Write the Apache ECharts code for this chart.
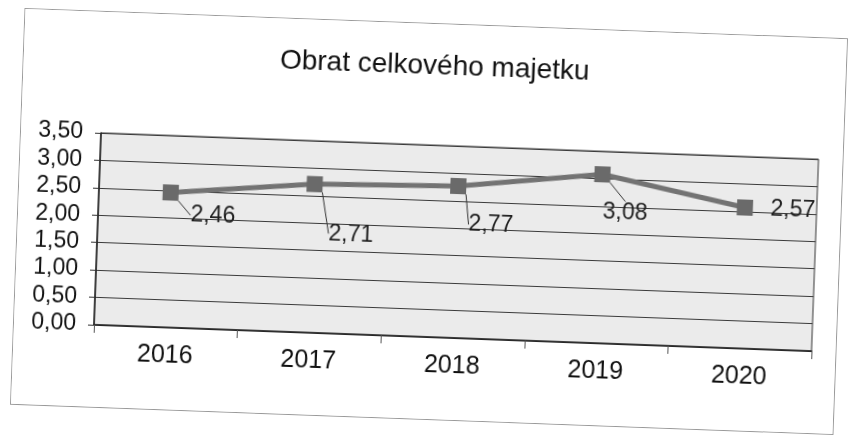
<!DOCTYPE html>
<html>
<head>
<meta charset="utf-8">
<script src="https://cdn.jsdelivr.net/npm/echarts@6/dist/echarts.min.js"></script>
<style>
html,body{margin:0;padding:0;background:#fff;width:850px;height:442px;overflow:hidden;}
#box{position:absolute;left:16.5px;top:23px;width:824px;height:397px;box-sizing:border-box;border:1px solid #9a9a9a;transform:rotate(2.1deg);transform-origin:50% 50%;background:#fff;}
#chart{position:absolute;left:0;top:0;width:822px;height:395px;}
</style>
</head>
<body>
<div id="box"><div id="chart"></div></div>
<script>
var title = 'Obrat celkového majetku';
var categories = ['2016', '2017', '2018', '2019', '2020'];
var values = [2.46, 2.71, 2.77, 3.08, 2.57];
var yTicks = { min: 0, max: 3.5, interval: 0.5 };

// label placement offsets (styling only)
var labelOffsets = [[43, 22], [38, 49], [34, 38], [24, 38], [48, 1]];

function fmt(v) { return Number(v).toFixed(2).replace('.', ','); }

var chart = echarts.init(document.getElementById('chart'), null, { renderer: 'canvas' });
chart.setOption({
  animation: false,
  backgroundColor: '#fff',
  textStyle: { fontFamily: 'Liberation Sans, Arial, sans-serif' },
  title: {
    text: title,
    left: 'center',
    top: 23,
    textStyle: { fontSize: 28, fontWeight: 'normal', color: '#111', fontFamily: 'Liberation Sans, Arial, sans-serif' }
  },
  grid: {
    left: 80, top: 121, width: 718, height: 192,
    show: true, backgroundColor: '#ebebeb', borderColor: '#333', borderWidth: 1
  },
  xAxis: {
    type: 'category',
    data: categories,
    boundaryGap: true,
    axisLine: { lineStyle: { color: '#222', width: 1.5 } },
    axisTick: { show: true, length: 8, lineStyle: { color: '#555' } },
    axisLabel: { margin: 16, fontSize: 25, color: '#111' }
  },
  yAxis: {
    type: 'value',
    min: yTicks.min, max: yTicks.max, interval: yTicks.interval,
    axisLine: { show: true, lineStyle: { color: '#222', width: 1.5 } },
    axisTick: { show: true, length: 6, lineStyle: { color: '#333' } },
    splitLine: { show: true, lineStyle: { color: '#3a3a3a', width: 1 } },
    axisLabel: { margin: 18, fontSize: 23, color: '#111', formatter: fmt }
  },
  series: [{
    type: 'line',
    data: values.map(function (v, i) {
      return i === values.length - 1 ? { value: v, labelLine: { show: false } } : v;
    }),
    symbol: 'rect',
    symbolSize: 16,
    lineStyle: { color: '#737373', width: 5 },
    itemStyle: { color: '#6a6a6a' },
    label: {
      show: true, position: 'inside', fontSize: 23, color: '#1e1e1e',
      formatter: function (p) { return fmt(p.value); }
    },
    labelLine: { show: true, lineStyle: { color: '#333', width: 1 } },
    labelLayout: function (params) {
      var o = labelOffsets[params.dataIndex];
      return { dx: o[0], dy: o[1] };
    }
  }]
});
</script>
</body>
</html>
